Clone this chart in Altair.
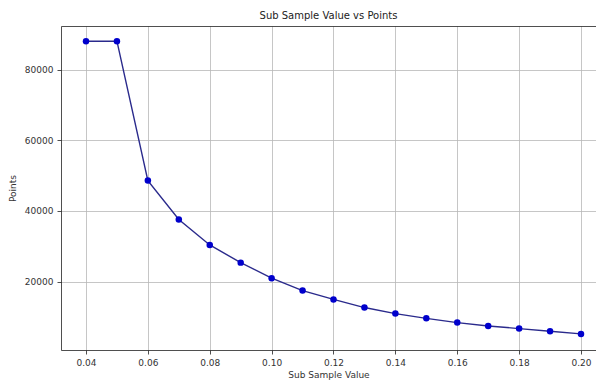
import altair as alt
import pandas as pd

sub_sample = [0.04, 0.05, 0.06, 0.07, 0.08, 0.09, 0.10, 0.11, 0.12, 0.13,
              0.14, 0.15, 0.16, 0.17, 0.18, 0.19, 0.20]
points = [88000, 88000, 48600, 37600, 30400, 25400, 21000, 17500, 15000, 12700,
          11000, 9650, 8450, 7500, 6750, 6000, 5250]
x_ticks = [0.04, 0.06, 0.08, 0.10, 0.12, 0.14, 0.16, 0.18, 0.20]
y_ticks = [20000, 40000, 60000, 80000]

df = pd.DataFrame({"x": sub_sample, "y": points})

FONT = "DejaVu Sans"
x_scale = alt.Scale(domain=[0.03192, 0.20485], nice=False, zero=False)
y_scale = alt.Scale(domain=[700, 92300], nice=False, zero=False)

y_enc = alt.Y("y:Q", title="Points", scale=y_scale,
              axis=alt.Axis(values=y_ticks, format="d"))

line = alt.Chart(df).mark_line(color="#2a2a8c", strokeWidth=1.4).encode(
    x=alt.X("x:Q", title="Sub Sample Value", scale=x_scale,
            axis=alt.Axis(values=x_ticks, format=".2f", labelFlush=False)),
    y=y_enc,
)
dots = alt.Chart(df).mark_circle(color="#0000cc", opacity=1, size=42).encode(
    x=alt.X("x:Q", scale=x_scale,
            axis=alt.Axis(orient="top", labels=False, ticks=False, grid=False,
                          title=None, domain=True)),
    y=y_enc,
)

chart = alt.layer(line, dots).resolve_axis(x="independent").properties(
    width=535, height=324,
    title=alt.TitleParams("Sub Sample Value vs Points", font=FONT, fontSize=10,
                          fontWeight="normal", color="#222", offset=5),
    autosize=alt.AutoSizeParams(type="none"),
    padding={"left": 53, "top": 18, "right": 0, "bottom": 30},
).configure_view(
    stroke="transparent", strokeWidth=0
).configure_axis(
    labelFont=FONT, titleFont=FONT, labelFontSize=9, titleFontSize=9,
    titleFontWeight="normal", labelColor="#333", titleColor="#333",
    domainColor="#222", domainWidth=0.8, tickColor="#222", tickWidth=0.8,
    tickSize=4, labelPadding=4, gridColor="#b8b8b8", gridWidth=0.8,
).configure_axisX(titlePadding=3).configure_axisY(titlePadding=7)

chart.save("out.html", embed_options={"renderer": "svg", "actions": False})
